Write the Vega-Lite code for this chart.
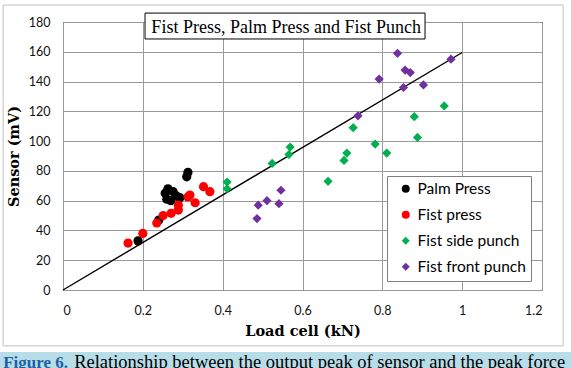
{
  "$schema": "https://vega.github.io/schema/vega-lite/v6.json",
  "autosize": "none",
  "padding": {"left": 63, "top": 22, "right": 29, "bottom": 78},
  "width": 479,
  "height": 268,
  "background": "white",
  "datasets": {
    "fit": [
      {"load": 0, "sensor": 0},
      {"load": 1.0, "sensor": 159.5}
    ],
    "heading": [
      {"caption": "Fist Press, Palm Press and Fist Punch"}
    ],
    "figlabel": [
      {"caption": "Figure 6."}
    ],
    "figtext": [
      {"caption": "Relationship between the output peak of sensor and the peak force"}
    ],
    "trials": [
      {"series": "Palm Press", "load": 0.188, "sensor": 33},
      {"series": "Palm Press", "load": 0.24, "sensor": 47},
      {"series": "Palm Press", "load": 0.256, "sensor": 65},
      {"series": "Palm Press", "load": 0.263, "sensor": 68},
      {"series": "Palm Press", "load": 0.26, "sensor": 61},
      {"series": "Palm Press", "load": 0.27, "sensor": 60},
      {"series": "Palm Press", "load": 0.276, "sensor": 66},
      {"series": "Palm Press", "load": 0.285, "sensor": 63},
      {"series": "Palm Press", "load": 0.293, "sensor": 62},
      {"series": "Palm Press", "load": 0.31, "sensor": 76},
      {"series": "Palm Press", "load": 0.313, "sensor": 79},
      {"series": "Fist press", "load": 0.163, "sensor": 31.5},
      {"series": "Fist press", "load": 0.2, "sensor": 38},
      {"series": "Fist press", "load": 0.235, "sensor": 45},
      {"series": "Fist press", "load": 0.251, "sensor": 50},
      {"series": "Fist press", "load": 0.271, "sensor": 51.5},
      {"series": "Fist press", "load": 0.289, "sensor": 53.7},
      {"series": "Fist press", "load": 0.289, "sensor": 57},
      {"series": "Fist press", "load": 0.313, "sensor": 62.5},
      {"series": "Fist press", "load": 0.318, "sensor": 63.8},
      {"series": "Fist press", "load": 0.331, "sensor": 58.6},
      {"series": "Fist press", "load": 0.352, "sensor": 69.4},
      {"series": "Fist press", "load": 0.368, "sensor": 66},
      {"series": "Fist side punch", "load": 0.411, "sensor": 72.5},
      {"series": "Fist side punch", "load": 0.411, "sensor": 68},
      {"series": "Fist side punch", "load": 0.524, "sensor": 85},
      {"series": "Fist side punch", "load": 0.566, "sensor": 91},
      {"series": "Fist side punch", "load": 0.569, "sensor": 96},
      {"series": "Fist side punch", "load": 0.664, "sensor": 73},
      {"series": "Fist side punch", "load": 0.704, "sensor": 87},
      {"series": "Fist side punch", "load": 0.711, "sensor": 92},
      {"series": "Fist side punch", "load": 0.727, "sensor": 109},
      {"series": "Fist side punch", "load": 0.782, "sensor": 98},
      {"series": "Fist side punch", "load": 0.811, "sensor": 92},
      {"series": "Fist side punch", "load": 0.88, "sensor": 116.4},
      {"series": "Fist side punch", "load": 0.888, "sensor": 102.5},
      {"series": "Fist side punch", "load": 0.955, "sensor": 123.6},
      {"series": "Fist front punch", "load": 0.486, "sensor": 48},
      {"series": "Fist front punch", "load": 0.489, "sensor": 57},
      {"series": "Fist front punch", "load": 0.511, "sensor": 60},
      {"series": "Fist front punch", "load": 0.541, "sensor": 58},
      {"series": "Fist front punch", "load": 0.546, "sensor": 67},
      {"series": "Fist front punch", "load": 0.739, "sensor": 117},
      {"series": "Fist front punch", "load": 0.792, "sensor": 141.7},
      {"series": "Fist front punch", "load": 0.838, "sensor": 159},
      {"series": "Fist front punch", "load": 0.853, "sensor": 136},
      {"series": "Fist front punch", "load": 0.857, "sensor": 147.7},
      {"series": "Fist front punch", "load": 0.87, "sensor": 146},
      {"series": "Fist front punch", "load": 0.903, "sensor": 137.7},
      {"series": "Fist front punch", "load": 0.972, "sensor": 155}
    ]
  },
  "layer": [
    {
      "data": {"name": "fit"},
      "mark": {"type": "line", "color": "#000000", "strokeWidth": 1.4},
      "encoding": {
        "x": {
          "field": "load",
          "type": "quantitative",
          "title": "Load cell (kN)",
          "scale": {"domain": [0, 1.2], "nice": false, "zero": true}
        },
        "y": {
          "field": "sensor",
          "type": "quantitative",
          "title": "Sensor (mV)",
          "scale": {"domain": [0, 180], "nice": false}
        }
      }
    },
    {
      "data": {"name": "trials"},
      "mark": {"type": "point", "filled": true, "opacity": 1, "size": 85, "strokeWidth": 0},
      "encoding": {
        "x": {"field": "load", "type": "quantitative", "title": "Load cell (kN)"},
        "y": {"field": "sensor", "type": "quantitative", "title": "Sensor (mV)"},
        "color": {
          "field": "series",
          "type": "nominal",
          "title": null,
          "scale": {
            "domain": ["Palm Press", "Fist press", "Fist side punch", "Fist front punch"],
            "range": ["#000000", "#ff0000", "#00b050", "#7030a0"]
          }
        },
        "shape": {
          "field": "series",
          "type": "nominal",
          "title": null,
          "scale": {
            "domain": ["Palm Press", "Fist press", "Fist side punch", "Fist front punch"],
            "range": ["circle", "circle", "diamond", "diamond"]
          }
        }
      }
    },
    {
      "data": {"name": "heading"},
      "mark": {"type": "rect", "fill": null, "stroke": "#c0c0c0", "strokeWidth": 1},
      "encoding": {
        "x": {"datum": -0.15, "type": "quantitative", "title": "Load cell (kN)"},
        "x2": {"datum": 1.253},
        "y": {"datum": 191.4, "type": "quantitative", "title": "Sensor (mV)"},
        "y2": {"datum": -37.5}
      }
    },
    {
      "data": {"name": "heading"},
      "mark": {"type": "rect", "fill": "#ffffff", "stroke": "#000000", "strokeWidth": 1},
      "encoding": {
        "x": {"datum": 0.2055, "type": "quantitative", "title": "Load cell (kN)"},
        "x2": {"datum": 0.907},
        "y": {"datum": 186, "type": "quantitative", "title": "Sensor (mV)"},
        "y2": {"datum": 168.6}
      }
    },
    {
      "data": {"name": "heading"},
      "mark": {
        "type": "text",
        "align": "center",
        "baseline": "alphabetic",
        "font": "Liberation Serif",
        "fontSize": 18,
        "color": "#000000"
      },
      "encoding": {
        "text": {"field": "caption"},
        "x": {"datum": 0.559, "type": "quantitative", "title": "Load cell (kN)"},
        "y": {"datum": 172.6, "type": "quantitative", "title": "Sensor (mV)"}
      }
    },
    {
      "data": {"name": "figlabel"},
      "mark": {"type": "rect", "fill": "#b7dde8", "stroke": null},
      "encoding": {
        "x": {"datum": -0.158, "type": "quantitative", "title": "Load cell (kN)"},
        "x2": {"datum": 1.274},
        "y": {"datum": -41.6, "type": "quantitative", "title": "Sensor (mV)"},
        "y2": {"datum": -56}
      }
    },
    {
      "data": {"name": "figlabel"},
      "mark": {
        "type": "text",
        "align": "left",
        "baseline": "alphabetic",
        "font": "Liberation Serif",
        "fontSize": 17,
        "fontWeight": "bold",
        "color": "#1f5fa6"
      },
      "encoding": {
        "text": {"field": "caption"},
        "x": {"datum": -0.15, "type": "quantitative", "title": "Load cell (kN)"},
        "y": {"datum": -52.5, "type": "quantitative", "title": "Sensor (mV)"}
      }
    },
    {
      "data": {"name": "figtext"},
      "mark": {
        "type": "text",
        "align": "left",
        "baseline": "alphabetic",
        "font": "Liberation Serif",
        "fontSize": 18.5,
        "color": "#000000"
      },
      "encoding": {
        "text": {"field": "caption"},
        "x": {"datum": 0.028, "type": "quantitative", "title": "Load cell (kN)"},
        "y": {"datum": -52.5, "type": "quantitative", "title": "Sensor (mV)"}
      }
    }
  ],
  "config": {
    "numberFormat": "~r",
    "view": {"stroke": "#000000", "strokeWidth": 1},
    "axis": {
      "grid": true,
      "gridColor": "#999999",
      "gridWidth": 1,
      "gridOpacity": 1,
      "domain": false,
      "ticks": false,
      "labelFont": "Lato",
      "labelFontSize": 12.5,
      "labelColor": "#111111",
      "titleFont": "DejaVu Serif",
      "titleFontSize": 14.5,
      "titleFontWeight": "bold",
      "titleColor": "#000000"
    },
    "axisX": {"tickCount": 6, "labelPadding": 14, "titlePadding": 8},
    "axisY": {"tickCount": 9, "labelPadding": 13, "titlePadding": 7},
    "legend": {
      "orient": "none",
      "legendX": 324,
      "legendY": 154,
      "fillColor": "#ffffff",
      "strokeColor": "#808080",
      "padding": 5,
      "symbolOffset": 6,
      "labelOffset": 4,
      "rowPadding": 9,
      "labelFont": "Lato",
      "labelFontSize": 15.5,
      "labelColor": "#000000",
      "symbolSize": 64,
      "symbolStrokeWidth": 0
    }
  }
}
